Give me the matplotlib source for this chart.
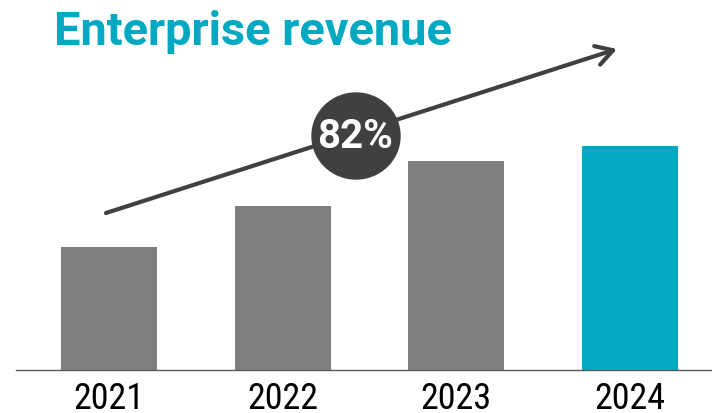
import matplotlib
matplotlib.use("Agg")
import matplotlib.pyplot as plt
from matplotlib.patches import Ellipse

years = ["2021", "2022", "2023", "2024"]
revenue = [100, 133, 170, 182]
growth_label = "82%"

GRAY = "#7f7f7f"
TEAL = "#00a8c1"
DARK = "#404040"

W, H = 712, 414
fig = plt.figure(figsize=(W / 100, H / 100), dpi=100)
ax = fig.add_axes([16 / W, 1 - 371 / H, 696 / W, 371 / H])

colors = [GRAY] * (len(years) - 1) + [TEAL]
ax.bar(range(len(years)), revenue, width=96 / 173.5, color=colors)
ax.set_xlim(-93 / 173.5, (712 - 109) / 173.5)
ax.set_ylim(0, revenue[0] * 371 / 123)
ax.set_xticks(range(len(years)), years)
ax.tick_params(axis="x", length=0, pad=7)
for lbl in ax.get_xticklabels():
    lbl.set_fontfamily("Roboto Condensed")
    lbl.set_fontsize(26)
    lbl.set_color("black")
ax.set_yticks([])
for s in ("top", "right", "left"):
    ax.spines[s].set_visible(False)
ax.spines["bottom"].set_color("#595959")
ax.spines["bottom"].set_linewidth(1.0)
ax.patch.set_alpha(0)

fig.text(54 / W, 1 - 45 / H, "Enterprise revenue", color=TEAL, fontsize=33.8,
         fontweight="bold", fontstretch="normal", family="Roboto",
         va="baseline", ha="left")

ax.annotate("", xy=(617, H - 50), xytext=(106, H - 214),
            xycoords="figure pixels", textcoords="figure pixels",
            arrowprops=dict(arrowstyle="->,head_length=0.6,head_width=0.35",
                            color=DARK, lw=3, mutation_scale=20, shrinkA=0, shrinkB=0))

cx, cy = 356, H - 137
fig.patches.append(Ellipse((cx / W, cy / H), 88 / W, 86 / H, color=DARK,
                           transform=fig.transFigure, figure=fig, zorder=5))
fig.text(cx / W - 1 / W, cy / H, growth_label, color="white", fontsize=29, fontweight="bold",
         fontstretch="normal", family="Roboto", ha="center", va="center", zorder=6)

fig.savefig("out.png", dpi=100)
